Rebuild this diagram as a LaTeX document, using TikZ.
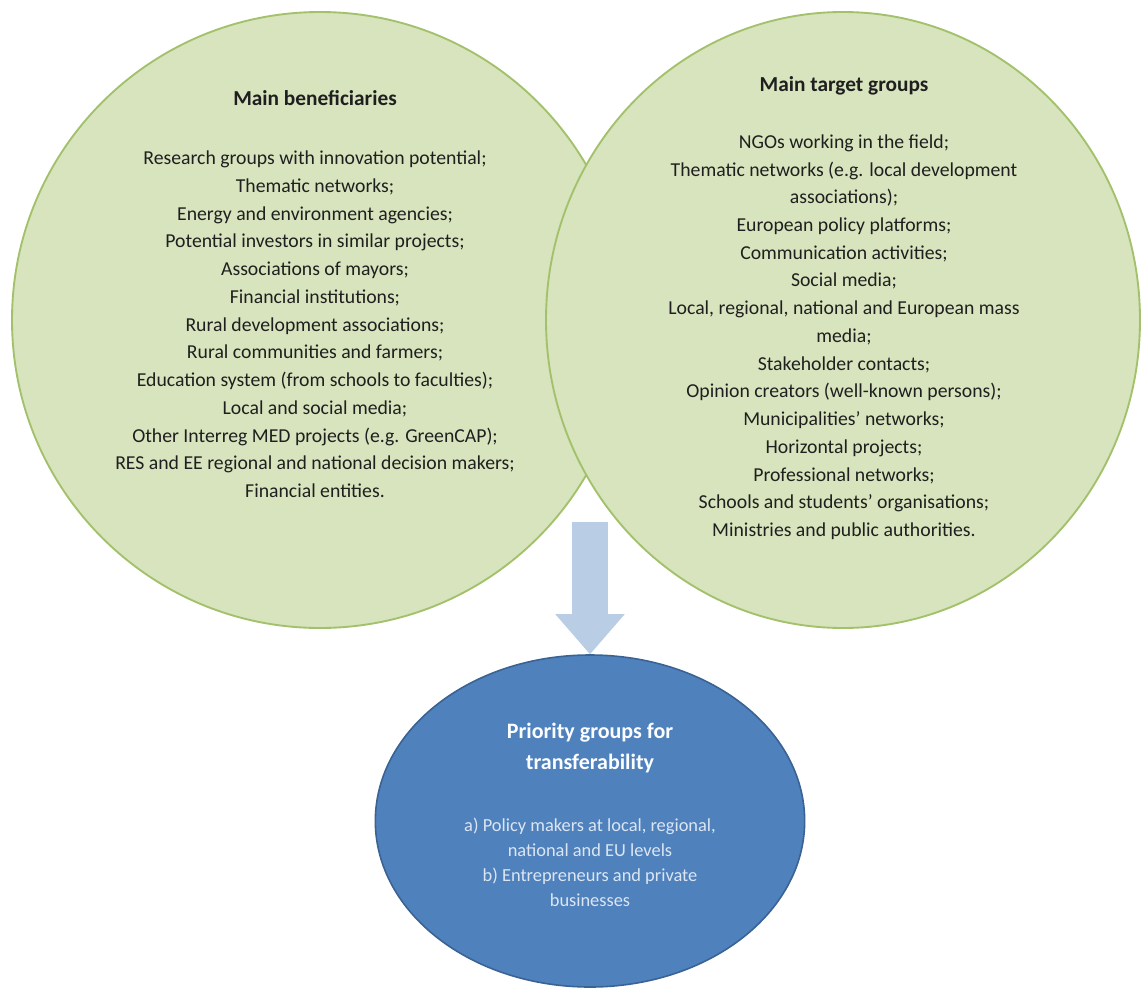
\documentclass[tikz,border=0pt]{standalone}
\usepackage{fontspec}
\setmainfont{Carlito}
\usepackage{tikz}
\definecolor{venngreen}{HTML}{D7E4BD}
\definecolor{venngreenline}{HTML}{A3C16B}
\definecolor{priofill}{HTML}{4F81BD}
\definecolor{prioline}{HTML}{3A6394}
\definecolor{priotext}{HTML}{DCE6F2}
\definecolor{arrowblue}{HTML}{B9CDE5}
\newcommand{\venntitleface}{\fontsize{16}{20.8}\selectfont\bfseries}
\usetikzlibrary{shapes.geometric,arrows.meta}

\begin{document}
\begin{tikzpicture}[x=0.75pt,y=-0.75pt,
    venn/.style={ellipse,fill=venngreen,draw=venngreenline,line width=1.4pt,inner sep=0pt,minimum height=462pt},
    venntext/.style={align=center,anchor=north,inner sep=0pt,text=black!88,font=\fontsize{14.8}{20.8}\selectfont},
    prio/.style={ellipse,fill=priofill,draw=prioline,line width=1.2pt,inner sep=0pt,minimum width=322pt,minimum height=249pt},
    priohead/.style={align=center,inner sep=0pt,text=white!92!priotext,font=\fontsize{16.5}{23.25}\selectfont\bfseries},
    priobody/.style={align=center,inner sep=0pt,text=priotext,font=\fontsize{13.8}{18.75}\selectfont},
    bigarrow/.style={arrowblue,line width=27pt,-{Triangle[width=52pt,length=30pt,line width=0pt]}}
  ]
  \useasboundingbox[fill=white] (0,0) rectangle (1143,989);

  \node[venn,minimum width=462pt] (benef) at (320,320) {};
  \node[venn,minimum width=445.5pt] (target) at (843,320) {};

  \node[venntext] (beneftext) at (315,90.5) {{\venntitleface Main beneficiaries}\\[23.4pt]
    Research groups with innovation potential;\\
    Thematic networks;\\
    Energy and environment agencies;\\
    Potential investors in similar projects;\\
    Associations of mayors;\\
    Financial institutions;\\
    Rural development associations;\\
    Rural communities and farmers;\\
    Education system (from schools to faculties);\\
    Local and social media;\\
    Other Interreg MED projects (e.g. GreenCAP);\\
    RES and EE regional and national decision makers;\\
    Financial entities.};

  \node[venntext] (targettext) at (844,76) {{\venntitleface Main target groups}\\[22pt]
    NGOs working in the field;\\
    Thematic networks (e.g. local development\\
    associations);\\
    European policy platforms;\\
    Communication activities;\\
    Social media;\\
    Local, regional, national and European mass\\
    media;\\
    Stakeholder contacts;\\
    Opinion creators (well-known persons);\\
    Municipalities’ networks;\\
    Horizontal projects;\\
    Professional networks;\\
    Schools and students’ organisations;\\
    Ministries and public authorities.};

  \node[prio] (prio) at (590,821) {};
  \node[priohead] (priotitle) at (590,748.5) {Priority groups for\\ transferability};
  \node[priobody] (priolist) at (590,862) {a) Policy makers at local, regional,\\
    national and EU levels\\
    b) Entrepreneurs and private\\
    businesses};

  \coordinate (arrowtop) at (590,522);
  \draw[bigarrow] (arrowtop) -- (prio.north);
\end{tikzpicture}
\end{document}
